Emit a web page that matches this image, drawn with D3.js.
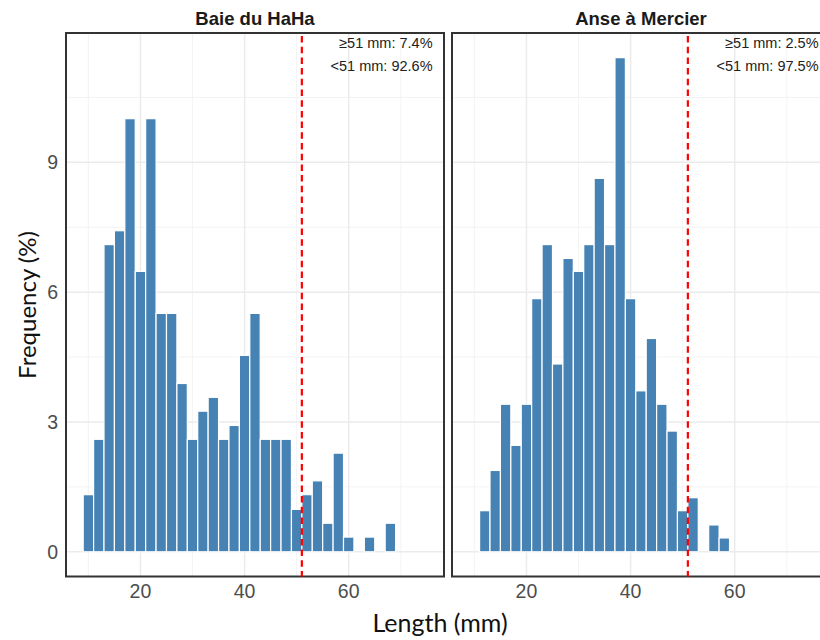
<!DOCTYPE html>
<html>
<head>
<meta charset="utf-8">
<script src="https://cdn.jsdelivr.net/npm/d3@7"></script>
<style>
  body { margin: 0; background: #fff; }
  svg { display: block; font-family: "Liberation Sans", Arial, sans-serif; }
</style>
</head>
<body>
<div id="chart"></div>
<script>
// histogram bins (mm, bin centres, width 2)
const binCenters = [10, 12, 14, 16, 18, 20, 22, 24, 26, 28, 30, 32, 34, 36, 38,
  40, 42, 44, 46, 48, 50, 52, 54, 56, 58, 60, 62, 64, 66, 68];
const binWidth = 2;

const sites = ["Baie du HaHa", "Anse à Mercier"];

// frequency (%) per bin
const hahaFreq = [1.32, 2.60, 7.10, 7.42, 10.01, 6.48, 10.01, 5.51, 5.51, 3.89,
  2.60, 3.25, 3.57, 2.60, 2.92, 4.54, 5.51, 2.60, 2.60, 2.60,
  0.98, 1.32, 1.64, 0.66, 2.28, 0.34, 0, 0.34, 0, 0.66];
const mercierFreq = [0, 0.95, 1.88, 3.41, 2.46, 3.41, 5.85, 7.10, 4.34, 6.78,
  6.48, 7.10, 8.63, 7.10, 11.42, 5.85, 3.72, 4.93, 3.41, 2.79,
  0.95, 1.25, 0, 0.62, 0.32, 0, 0, 0, 0, 0];

const cutoff = 51;
const aboveLabels = ["≥51 mm: 7.4%", "≥51 mm: 2.5%"];
const belowLabels = ["<51 mm: 92.6%", "<51 mm: 97.5%"];

const xTicks = [20, 40, 60];
const xMinor = [10, 30, 50, 70];
const yTicks = [0, 3, 6, 9];
const yMinor = [1.5, 4.5, 7.5, 10.5];

const width = 820, height = 640;
const panelW = 378;
const panelTop = 33, panelBottom = 576.5;
const panelLefts = [66, 452];

const svg = d3.select("#chart").append("svg")
  .attr("width", width)
  .attr("height", height);

const x = d3.scaleLinear().domain([5.7, 78.3]).range([0, panelW]);
const y = d3.scaleLinear().domain([-0.571, 11.99]).range([panelBottom, panelTop]);

const freqs = [hahaFreq, mercierFreq];

sites.forEach((site, i) => {
  const g = svg.append("g").attr("transform", `translate(${panelLefts[i]},0)`);

  // gridlines
  g.selectAll(".ymin").data(yMinor).enter().append("line")
    .attr("x1", 0).attr("x2", panelW)
    .attr("y1", d => y(d)).attr("y2", d => y(d))
    .attr("stroke", "#f0f0f0").attr("stroke-width", 0.8);
  g.selectAll(".xmin").data(xMinor).enter().append("line")
    .attr("y1", panelTop).attr("y2", panelBottom)
    .attr("x1", d => x(d)).attr("x2", d => x(d))
    .attr("stroke", "#f0f0f0").attr("stroke-width", 0.8);
  g.selectAll(".ymaj").data(yTicks).enter().append("line")
    .attr("x1", 0).attr("x2", panelW)
    .attr("y1", d => y(d)).attr("y2", d => y(d))
    .attr("stroke", "#ebebeb").attr("stroke-width", 1.5);
  g.selectAll(".xmaj").data(xTicks).enter().append("line")
    .attr("y1", panelTop).attr("y2", panelBottom)
    .attr("x1", d => x(d)).attr("x2", d => x(d))
    .attr("stroke", "#ebebeb").attr("stroke-width", 1.5);

  // bars
  const bins = binCenters.map((c, k) => ({ c, f: freqs[i][k] })).filter(d => d.f > 0);
  g.selectAll("rect.bar").data(bins).enter().append("rect")
    .attr("class", "bar")
    .attr("x", d => x(d.c - binWidth / 2))
    .attr("width", d => x(d.c + binWidth / 2) - x(d.c - binWidth / 2))
    .attr("y", d => y(d.f))
    .attr("height", d => y(0) - y(d.f))
    .attr("fill", "#4682b4")
    .attr("stroke", "#ffffff")
    .attr("stroke-width", 1.2);

  // panel border
  g.append("rect")
    .attr("x", 0).attr("y", panelTop)
    .attr("width", panelW).attr("height", panelBottom - panelTop)
    .attr("fill", "none").attr("stroke", "#333").attr("stroke-width", 2);

  // cutoff line
  g.append("line")
    .attr("x1", x(cutoff)).attr("x2", x(cutoff))
    .attr("y1", panelTop + 3).attr("y2", panelBottom)
    .attr("stroke", "#ff0000").attr("stroke-width", 2.2)
    .attr("stroke-dasharray", "6.5 4.2");

  // annotations
  g.append("text")
    .attr("x", x(76.1)).attr("y", panelTop + 15)
    .attr("text-anchor", "end")
    .attr("font-size", 14.5).attr("fill", "#222")
    .text(aboveLabels[i]);
  g.append("text")
    .attr("x", x(76.1)).attr("y", panelTop + 38)
    .attr("text-anchor", "end")
    .attr("font-size", 14.5).attr("fill", "#222")
    .text(belowLabels[i]);

  // strip title
  g.append("text")
    .attr("x", panelW / 2).attr("y", 25)
    .attr("text-anchor", "middle")
    .attr("font-size", 18.5).attr("font-weight", "bold").attr("fill", "#1a1a1a")
    .text(site);

  // x tick labels
  g.selectAll(".xt").data(xTicks).enter().append("text")
    .attr("x", d => x(d)).attr("y", 598)
    .attr("text-anchor", "middle")
    .attr("font-size", 19.5).attr("fill", "#4d4d4d")
    .text(d => d);
});

// y tick labels (left panel only)
svg.selectAll(".yt").data(yTicks).enter().append("text")
  .attr("x", 58).attr("y", d => y(d) + 7)
  .attr("text-anchor", "end")
  .attr("font-size", 19.5).attr("fill", "#4d4d4d")
  .text(d => d);

// axis titles
svg.append("text")
  .attr("x", 440).attr("y", 632)
  .attr("text-anchor", "middle")
  .attr("font-family", "Lato, 'Open Sans', sans-serif")
  .attr("font-size", 25).attr("fill", "#111")
  .text("Length (mm)");

svg.append("text")
  .attr("transform", "translate(36,305) rotate(-90)")
  .attr("text-anchor", "middle")
  .attr("font-family", "Lato, 'Open Sans', sans-serif")
  .attr("font-size", 24).attr("fill", "#111")
  .text("Frequency (%)");
</script>
</body>
</html>
